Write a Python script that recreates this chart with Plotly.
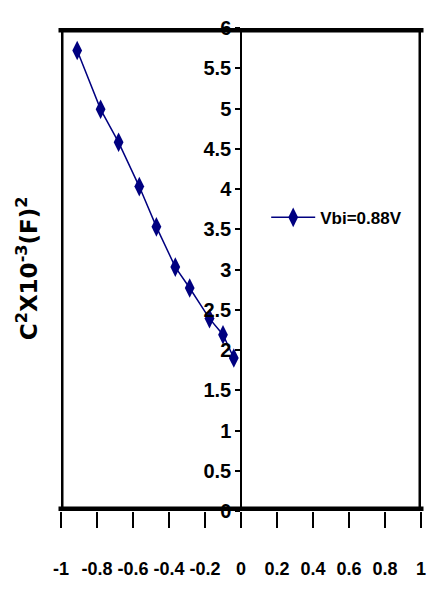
import plotly.graph_objects as go

# Reverse-bias C-V data, plotted as C^-2 vs applied voltage
voltage = [-0.91, -0.78, -0.68, -0.565, -0.47, -0.365, -0.285, -0.175, -0.10, -0.04]
inv_c2 = [5.72, 4.99, 4.58, 4.03, 3.53, 3.03, 2.77, 2.39, 2.19, 1.90]
series_name = "Vbi=0.88V"

x_ticks = [-1, -0.8, -0.6, -0.4, -0.2, 0, 0.2, 0.4, 0.6, 0.8, 1]
x_tick_text = ["-1", "-0.8", "-0.6", "-0.4", "-0.2", "0", "0.2", "0.4", "0.6", "0.8", "1"]
y_ticks = [0, 0.5, 1, 1.5, 2, 2.5, 3, 3.5, 4, 4.5, 5, 5.5, 6]
y_tick_text = ["0", "0.5", "1", "1.5", "2", "2.5", "3", "3.5", "4", "4.5", "5", "5.5", "6"]
y_title = "C<sup>2</sup>X10<sup>-3</sup>(F)<sup>2</sup>"

NAVY = "#000080"
FONT = "Liberation Sans, Arial, sans-serif"

fig = go.Figure()
fig.add_trace(go.Scatter(
    x=voltage, y=inv_c2, name=series_name, mode="lines+markers",
    line=dict(color=NAVY, width=1.5),
    marker=dict(symbol="diamond-tall", size=14, color=NAVY),
))

fig.update_layout(
    width=438, height=590,
    margin=dict(l=61, r=17, t=28, b=79),
    paper_bgcolor="white", plot_bgcolor="white",
    showlegend=True,
    legend=dict(x=0.57, y=0.607, xanchor="left", yanchor="middle",
                itemwidth=44,
                bgcolor="rgba(0,0,0,0)",
                font=dict(family=FONT, size=17, color="black", weight="bold")),
    xaxis=dict(range=[-1, 1], tickvals=x_ticks, ticktext=x_tick_text,
               showgrid=False, zeroline=False, showline=False,
               ticks="outside", ticklen=16, tickwidth=1.5, tickcolor="black",
               ticklabelstandoff=25, tickangle=0, automargin=False,
               tickfont=dict(family=FONT, size=18, color="black", weight="bold")),
    yaxis=dict(range=[0, 6], tickvals=y_ticks, ticktext=y_tick_text,
               anchor="free", position=0.5, automargin=False,
               showgrid=False, zeroline=False,
               showline=True, linecolor="black", linewidth=1.5,
               ticks="outside", ticklen=5, tickwidth=1.5, tickcolor="black",
               tickfont=dict(family=FONT, size=20, color="black", weight="bold")),
)

# Heavy frame: thick top/bottom edges, narrower sides
ext = 2.5 / 360
fig.add_shape(type="line", xref="paper", yref="y", x0=-ext, x1=1 + ext, y0=6, y1=6,
              line=dict(color="black", width=9))
fig.add_shape(type="line", xref="paper", yref="y", x0=-ext, x1=1 + ext, y0=0, y1=0,
              line=dict(color="black", width=9))
fig.add_shape(type="line", xref="x", yref="paper", x0=-1, x1=-1, y0=0, y1=1,
              line=dict(color="black", width=5))
fig.add_shape(type="line", xref="x", yref="paper", x0=1, x1=1, y0=0, y1=1,
              line=dict(color="black", width=5))

fig.add_annotation(text=y_title, xref="paper", yref="paper", x=-0.094, y=0.503,
                   textangle=-90, showarrow=False, xanchor="center", yanchor="middle",
                   font=dict(family="DejaVu Sans, Liberation Sans, sans-serif", size=23,
                             color="black", weight="bold"))

fig.write_html("out.html")
